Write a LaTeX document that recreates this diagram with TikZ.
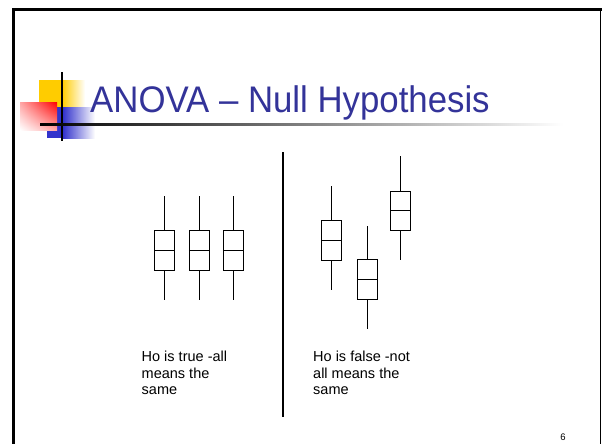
\documentclass[tikz,border=0pt]{standalone}
\usepackage{fontspec}
\setmainfont{Liberation Sans}
\usepackage{tikz}
\usetikzlibrary{shadings}
\definecolor{slideblue}{RGB}{51,51,153}
\definecolor{logoblue}{RGB}{51,51,204}
\definecolor{logoyellow}{RGB}{255,204,0}
\tikzstyle{boxp} = [draw, line width=0.9pt, minimum width=20pt, minimum height=39.5pt, inner sep=0pt]
\tikzstyle{whisk} = [line width=0.9pt]
\tikzstyle{note} = [anchor=north west, align=left, inner sep=0pt, font=\fontsize{14.5}{16.3}\selectfont]

\begin{document}
\begin{tikzpicture}[x=1pt,y=-1pt]
  \useasboundingbox[fill=white] (0,0) rectangle (602,444);
  % slide frame
  \draw[line width=3pt] (13.5,444) -- (13.5,10) -- (602,10);
  \draw[line width=1.5pt] (600.5,10) -- (600.5,444);
  % logo
  \fill[logoyellow] (39,80) rectangle (62,110);
  \shade[left color=logoyellow, right color=white] (62,80) rectangle (85,110);
  \fill[logoblue] (47,107) rectangle (63,138);
  \shade[left color=logoblue, right color=white] (63,107) rectangle (95,138);
  \shade[upper right=red, upper left=red!35, lower right=red!35, lower left=white] (20,102) rectangle (57,130);
  \draw[line width=2.5pt] (62,72) -- (62,141);
  \shade[left color=black, right color=white] (40,123) rectangle (563,125.5);
  \node[anchor=base west, inner sep=0pt, text=slideblue, font=\fontsize{37}{40}\selectfont] (title) at (90,112) {\scalebox{0.94}[1]{ANOVA – Null Hypothesis}};
  % divider
  \draw[line width=1.5pt] (283,152) -- (283,417);
  % equal means
  \node[boxp] (b1) at (164.7,250.3) {};
  \draw[whisk] (b1.west) -- (b1.east) (b1.north) -- ++(0,-34.5) (b1.south) -- ++(0,29.3);
  \node[boxp] (b2) at (199.3,250.3) {};
  \draw[whisk] (b2.west) -- (b2.east) (b2.north) -- ++(0,-34.5) (b2.south) -- ++(0,29.3);
  \node[boxp] (b3) at (233.3,250.3) {};
  \draw[whisk] (b3.west) -- (b3.east) (b3.north) -- ++(0,-34.5) (b3.south) -- ++(0,29.3);
  % unequal means
  \node[boxp] (c1) at (331.7,240.3) {};
  \draw[whisk] (c1.west) -- (c1.east) (c1.north) -- ++(0,-34.5) (c1.south) -- ++(0,29.3);
  \node[boxp] (c2) at (367.2,279.3) {};
  \draw[whisk] (c2.west) -- (c2.east) (c2.north) -- ++(0,-33.5) (c2.south) -- ++(0,29.3);
  \node[boxp] (c3) at (400.7,210.7) {};
  \draw[whisk] (c3.west) -- (c3.east) (c3.north) -- ++(0,-35) (c3.south) -- ++(0,29.3);
  % captions
  \node[note] (truenote) at (141.5,351) {Ho is true -all\\means the\\same};
  \node[note] (falsenote) at (313,351) {Ho is false -not\\all means the\\same};
  \node[font=\fontsize{9.5}{11}\selectfont, inner sep=0pt] (pagenum) at (563,437) {6};
\end{tikzpicture}
\end{document}
